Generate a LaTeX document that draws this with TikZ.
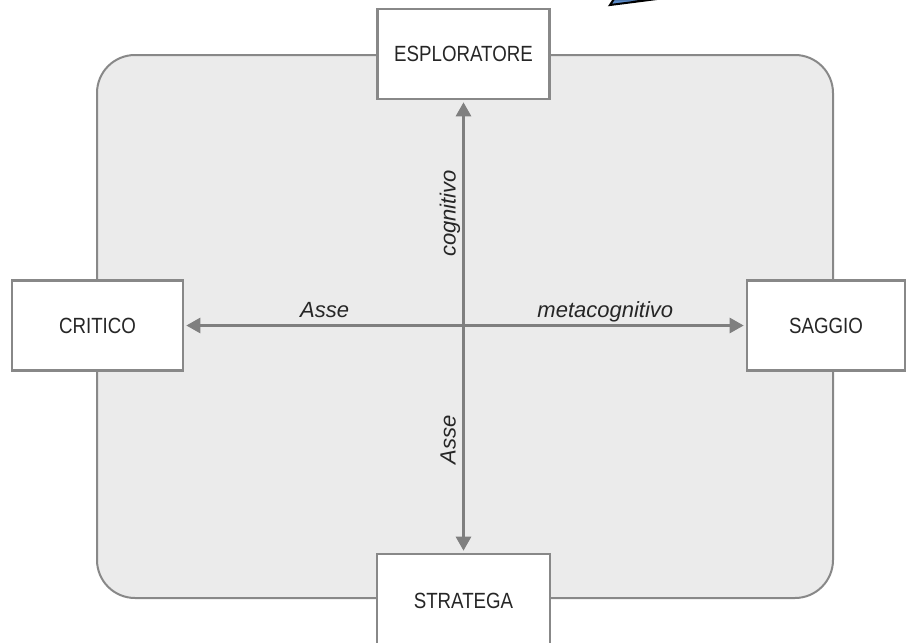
\documentclass[tikz,border=0pt]{standalone}
\usepackage{fontspec}
\setmainfont{Liberation Sans}
\newfontfamily\boxfont[FakeStretch=0.85]{Liberation Sans}
\usetikzlibrary{arrows.meta}
\definecolor{panelgray}{HTML}{EBEBEB}
\definecolor{rim}{HTML}{888888}
\definecolor{axisgray}{HTML}{7F7F7F}
\definecolor{ink}{HTML}{262626}
\definecolor{wedgeblue}{HTML}{5B8BC9}
\tikzset{>={Triangle[length=7pt,width=7.5pt]},
  every node/.style={font=\fontsize{11}{13}\selectfont},
  panel/.style={fill=panelgray,draw=rim,line width=1pt,rounded corners=19pt},
  rolebox/.style={draw=rim,fill=white,line width=1.3pt,minimum height=45pt,
    inner sep=0pt,text=ink,font=\boxfont\fontsize{11}{13}\selectfont},
  axis/.style={<->,draw=axisgray,line width=1.4pt,shorten <=1pt,shorten >=1pt},
  axislabel/.style={text=ink,font=\itshape\fontsize{11}{13}\selectfont,
    anchor=base,yshift=4pt}}

\begin{document}
\begin{tikzpicture}[x=.5pt,y=-.5pt]
\useasboundingbox (0,0) rectangle (907,643);
\filldraw[fill=wedgeblue,draw=black,line width=1pt] (610,5) -- (657,-1) -- (614,-1) -- cycle;
\draw[panel] (97,55) rectangle (833,598);
\node[rolebox,minimum width=86pt] (esp) at (463.5,54) {ESPLORATORE};
\node[rolebox,minimum width=85.5pt] (cri) at (97.5,325.5) {CRITICO};
\node[rolebox,minimum width=79pt] (sag) at (826,325.5) {SAGGIO};
\node[rolebox,minimum width=86.5pt,minimum height=47pt] (str) at (463.5,601) {STRATEGA};
\draw[axis] (esp) -- (str)
  node[pos=.25,rotate=90,axislabel] {cognitivo}
  node[pos=.75,rotate=90,axislabel] {Asse};
\draw[axis] (cri) -- (sag)
  node[axislabel,pos=.25] {Asse}
  node[axislabel,pos=.75] {metacognitivo};
\end{tikzpicture}
\end{document}
